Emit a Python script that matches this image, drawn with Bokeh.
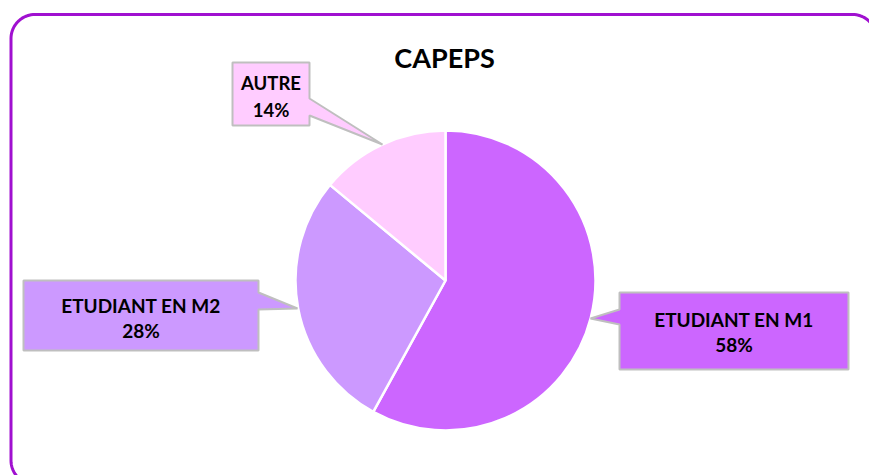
import numpy as np
from bokeh.plotting import figure
from bokeh.models import Range1d
from bokeh.core.properties import value
from bokeh.embed import file_html
from bokeh.resources import INLINE

# ---- data ----
title = "CAPEPS"
categories = ["ETUDIANT EN M1", "ETUDIANT EN M2", "AUTRE"]
values = [58, 28, 14]
colors = ["#CC66FF", "#CC99FF", "#FFCCFF"]

# ---- layout (reference pixel coordinates, y downward) ----
H = 475
def Y(y):
    return H - y

FONT = value("Lato")
cx, cy, R = 445, 280, 150

p = figure(width=869, height=475, output_backend="svg", toolbar_location=None,
           x_range=Range1d(0, 869), y_range=Range1d(0, 475), min_border=0)
p.axis.visible = False
p.grid.visible = False
p.outline_line_color = None
p.background_fill_color = "white"
p.border_fill_color = "white"

# rounded frame
x0, x1, y0, y1, r = 10.5, 876, 14, 484, 24
pts = []
for (ax, ay, a0, a1) in [(x0 + r, y0 + r, 180, 270), (x1 - r, y0 + r, 270, 360),
                         (x1 - r, y1 - r, 0, 90), (x0 + r, y1 - r, 90, 180)]:
    t = np.radians(np.linspace(a0, a1, 20))
    pts += [(ax + r * np.cos(tt), ay + r * np.sin(tt)) for tt in t]
pts.append(pts[0])
p.line([q[0] for q in pts], [Y(q[1]) for q in pts], line_color="#A010D0", line_width=3)

# pie
total = sum(values)
cum = np.cumsum([0] + values) / total
starts = [np.pi / 2 - 2 * np.pi * c for c in cum[:-1]]
ends = [np.pi / 2 - 2 * np.pi * c for c in cum[1:]]
p.wedge(x=[cx] * len(values), y=[Y(cy)] * len(values), radius=R, radius_units="screen",
        start_angle=starts, end_angle=ends, direction="clock",
        fill_color=colors, line_color="white", line_width=2.5)

# callouts
callouts = {
    "ETUDIANT EN M1": dict(poly=[(619, 292), (848, 292), (848, 369), (619, 369), (619, 324), (590, 318), (619, 309)],
                           tx=733.5, ty=(318.5, 344), size="19px"),
    "ETUDIANT EN M2": dict(poly=[(23, 280), (258, 280), (258, 292), (297, 308), (258, 309), (258, 350), (23, 350)],
                           tx=140.5, ty=(305, 330), size="19px"),
    "AUTRE": dict(poly=[(232, 62), (309, 62), (309, 98), (382, 144), (309, 115), (309, 125), (232, 125)],
                  tx=270.5, ty=(82, 109), size="18.5px"),
}
for cat, v, col in zip(categories, values, colors):
    c = callouts[cat]
    p.patch([q[0] for q in c["poly"]], [Y(q[1]) for q in c["poly"]],
            fill_color=col, line_color="#BFBFBF", line_width=2)
    p.text(x=[c["tx"]], y=[Y(c["ty"][0])], text=[cat], text_font=FONT, text_font_style="bold",
           text_font_size=c["size"], text_align="center", text_baseline="middle", text_color="black")
    p.text(x=[c["tx"]], y=[Y(c["ty"][1])], text=[f"{v}%"], text_font=FONT, text_font_style="bold",
           text_font_size=c["size"], text_align="center", text_baseline="middle", text_color="black")

# title
p.text(x=[444], y=[Y(56.5)], text=[title], text_font=FONT, text_font_style="bold",
       text_font_size="27px", text_align="center", text_baseline="middle", text_color="black")

open("out.html", "w").write(file_html(p, INLINE))
